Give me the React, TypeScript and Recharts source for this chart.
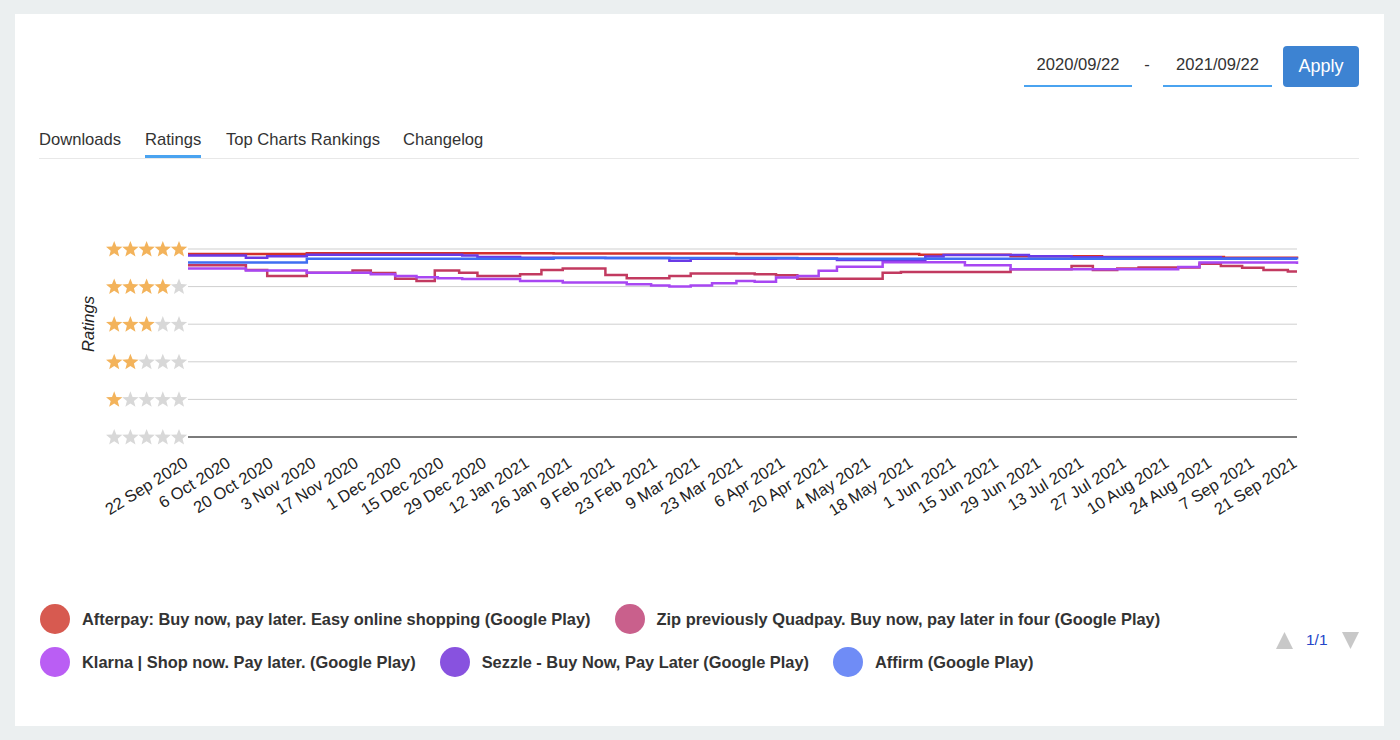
import React from 'react';
import { LineChart, Line, XAxis, YAxis, CartesianGrid } from 'recharts';

const tickLabels = [
  '22 Sep 2020', '6 Oct 2020', '20 Oct 2020', '3 Nov 2020', '17 Nov 2020', '1 Dec 2020',
  '15 Dec 2020', '29 Dec 2020', '12 Jan 2021', '26 Jan 2021', '9 Feb 2021', '23 Feb 2021',
  '9 Mar 2021', '23 Mar 2021', '6 Apr 2021', '20 Apr 2021', '4 May 2021', '18 May 2021',
  '1 Jun 2021', '15 Jun 2021', '29 Jun 2021', '13 Jul 2021', '27 Jul 2021', '10 Aug 2021',
  '24 Aug 2021', '7 Sep 2021', '21 Sep 2021',
];
const tickDays = [0, 14, 28, 42, 56, 70, 84, 98, 112, 126, 140, 154, 168, 182, 196, 210, 224, 238, 252, 266, 280, 294, 308, 322, 336, 350, 364];
const ratingTicks = [0, 1, 2, 3, 4, 5];

// day offsets (from 22 Sep 2020) where each rating changes, and the rating from that day on
const afterpayDays = [0, 39, 120, 180, 240, 270, 300, 340, 364];
const afterpayVals = [4.87, 4.89, 4.88, 4.87, 4.85, 4.81, 4.79, 4.77, 4.76];

const zipDays = [0, 19, 26, 39, 54, 60, 68, 75, 81, 89, 95, 109, 116, 123, 137, 144, 158, 165, 186, 193, 200, 228, 234, 270, 290, 297, 305, 312, 332, 339, 346, 353, 361, 364];
const zipVals = [4.57, 4.44, 4.28, 4.37, 4.43, 4.36, 4.21, 4.15, 4.43, 4.37, 4.28, 4.33, 4.44, 4.48, 4.31, 4.22, 4.28, 4.35, 4.33, 4.30, 4.21, 4.37, 4.39, 4.46, 4.55, 4.44, 4.48, 4.51, 4.61, 4.55, 4.50, 4.44, 4.40, 4.40];

const klarnaDays = [0, 19, 39, 60, 68, 75, 82, 90, 109, 123, 144, 152, 158, 165, 172, 180, 186, 193, 200, 207, 213, 228, 255, 270, 297, 325, 332, 364];
const klarnaVals = [4.48, 4.43, 4.37, 4.33, 4.28, 4.25, 4.22, 4.20, 4.15, 4.11, 4.06, 4.03, 4.00, 4.03, 4.09, 4.15, 4.13, 4.24, 4.28, 4.42, 4.53, 4.65, 4.57, 4.46, 4.46, 4.52, 4.64, 4.60];

const sezzleDays = [0, 19, 26, 39, 90, 95, 109, 137, 158, 165, 193, 213, 242, 248, 276, 290, 339, 364];
const sezzleVals = [4.83, 4.77, 4.81, 4.85, 4.83, 4.79, 4.77, 4.76, 4.69, 4.74, 4.75, 4.71, 4.80, 4.84, 4.81, 4.78, 4.75, 4.75];

const affirmDays = [0, 39, 120, 200, 364];
const affirmVals = [4.64, 4.74, 4.76, 4.74, 4.72];

const seriesNames = [
  'Afterpay: Buy now, pay later. Easy online shopping (Google Play)',
  'Zip previously Quadpay. Buy now, pay later in four (Google Play)',
  'Klarna | Shop now. Pay later. (Google Play)',
  'Sezzle - Buy Now, Pay Later (Google Play)',
  'Affirm (Google Play)',
];
const lineColors = ['#d3302c', '#c23a60', '#a847f2', '#6a3ae6', '#3f6ef2'];
const legendColors = ['#d75a50', '#c9608c', '#ba5ef4', '#8852df', '#6f8cf6'];

const build = (days: number[], vals: number[]) => days.map((d, i) => ({ d, v: vals[i] }));
const seriesData = [
  build(afterpayDays, afterpayVals),
  build(zipDays, zipVals),
  build(klarnaDays, klarnaVals),
  build(sezzleDays, sezzleVals),
  build(affirmDays, affirmVals),
];

const FONT = '"Liberation Sans", Arial, Helvetica, sans-serif';

const starPoints = (cx: number, cy: number, R: number, r: number) => {
  const pts: string[] = [];
  for (let k = 0; k < 10; k++) {
    const rad = k % 2 === 0 ? R : r;
    const a = -Math.PI / 2 + (k * Math.PI) / 5;
    pts.push(`${(cx + rad * Math.cos(a)).toFixed(2)},${(cy + rad * Math.sin(a)).toFixed(2)}`);
  }
  return pts.join(' ');
};

const StarTick = (props: any) => {
  const { x, y, payload } = props;
  const n = payload.value;
  return (
    <g>
      {[0, 1, 2, 3, 4].map((i) => (
        <polygon
          key={i}
          points={starPoints(x - 9 - (4 - i) * 16.2, y + 0.5, 8.6, 3.7)}
          fill={i < n ? '#f3b35b' : '#d8d8d8'}
        />
      ))}
    </g>
  );
};

const DateTick = (props: any) => {
  const { x, y, payload } = props;
  const idx = tickDays.indexOf(payload.value);
  return (
    <g transform={`translate(${x + 1},${y + 21}) rotate(-32)`}>
      <text x={0} y={0} textAnchor="end" fontSize={16.5} fill="#222" fontFamily={FONT}>
        {tickLabels[idx]}
      </text>
    </g>
  );
};

const YLabel = (props: any) => {
  const vb = props.viewBox || {};
  const cx = 88;
  const cy = vb.y + vb.height / 2 - 19;
  return (
    <text
      x={cx}
      y={cy}
      transform={`rotate(-90, ${cx}, ${cy})`}
      textAnchor="middle"
      dominantBaseline="central"
      fontSize={16.5}
      fontStyle="italic"
      fill="#222"
      fontFamily={FONT}
    >
      Ratings
    </text>
  );
};

export default function App() {
  return (
    <div style={{ position: 'fixed', left: 0, top: 0, width: 1400, height: 740, background: '#ebeff0', fontFamily: FONT, overflow: 'hidden' }}>
      <div style={{ position: 'absolute', left: 15, top: 14, width: 1369, height: 712, background: '#fff' }} />

      {/* date range */}
      <div style={{ position: 'absolute', left: 1024, top: 55, width: 108, textAlign: 'center', fontSize: 16.6, color: '#333' }}>2020/09/22</div>
      <div style={{ position: 'absolute', left: 1024, top: 85, width: 108, height: 2, background: '#4aa3f0' }} />
      <div style={{ position: 'absolute', left: 1142, top: 55, width: 10, textAlign: 'center', fontSize: 16.6, color: '#333' }}>-</div>
      <div style={{ position: 'absolute', left: 1163, top: 55, width: 109, textAlign: 'center', fontSize: 16.6, color: '#333' }}>2021/09/22</div>
      <div style={{ position: 'absolute', left: 1163, top: 85, width: 109, height: 2, background: '#4aa3f0' }} />
      <div style={{ position: 'absolute', left: 1283, top: 46, width: 76, height: 41, background: '#3d83d2', borderRadius: 4, color: '#fff', fontSize: 18, lineHeight: '41px', textAlign: 'center' }}>Apply</div>

      {/* tabs */}
      {[['Downloads', 39], ['Ratings', 145], ['Top Charts Rankings', 226], ['Changelog', 403]].map(([t, l]) => (
        <div key={t as string} style={{ position: 'absolute', left: l as number, top: 130, fontSize: 16.6, color: '#333', whiteSpace: 'nowrap' }}>{t}</div>
      ))}
      <div style={{ position: 'absolute', left: 39, top: 158, width: 1320, height: 1, background: '#e8e8e8' }} />
      <div style={{ position: 'absolute', left: 145, top: 155, width: 56, height: 3, background: '#4aa3f0' }} />

      <div style={{ position: 'absolute', left: 0, top: 0 }}>
        <LineChart width={1400} height={560} margin={{ top: 249, right: 103, bottom: 23, left: 88 }}>
          <CartesianGrid horizontal vertical={false} stroke="#cfcfcf" />
          <XAxis
            type="number"
            dataKey="d"
            domain={[0, 364]}
            ticks={tickDays}
            interval={0}
            tick={<DateTick />}
            tickLine={false}
            axisLine={{ stroke: '#111' }}
            height={100}
            allowDuplicatedCategory={false}
          />
          <YAxis
            type="number"
            domain={[0, 5]}
            ticks={ratingTicks}
            interval={0}
            width={100}
            tick={<StarTick />}
            tickLine={false}
            axisLine={false}
            tickSize={0}
            tickMargin={0}
            label={<YLabel />}
          />
          {seriesData.map((data, i) => (
            <Line
              key={i}
              data={data}
              dataKey="v"
              type="stepAfter"
              stroke={lineColors[i]}
              strokeWidth={2.5}
              dot={false}
              activeDot={false}
              isAnimationActive={false}
              name={seriesNames[i]}
            />
          ))}
        </LineChart>
      </div>

      {/* legend */}
      <div style={{ position: 'absolute', left: 40, top: 604, width: 1230, display: 'flex', flexWrap: 'wrap', rowGap: 13 }}>
        {seriesNames.map((n, i) => (
          <div key={n} style={{ display: 'flex', alignItems: 'center', marginRight: 24, height: 30 }}>
            <div style={{ width: 30, height: 30, borderRadius: 15, background: legendColors[i], marginRight: 12 }} />
            <div style={{ fontSize: 16.4, fontWeight: 700, color: '#333', whiteSpace: 'nowrap' }}>{n}</div>
          </div>
        ))}
      </div>

      {/* pagination */}
      <svg style={{ position: 'absolute', left: 1274, top: 630 }} width={90} height={22}>
        <polygon points="2,19 19,19 10.5,2" fill="#c8c8c8" />
        <polygon points="68,2 85,2 76.5,19" fill="#c8c8c8" />
      </svg>
      <div style={{ position: 'absolute', left: 1306, top: 631, fontSize: 15.5, color: '#2446c8' }}>1/1</div>
    </div>
  );
}
